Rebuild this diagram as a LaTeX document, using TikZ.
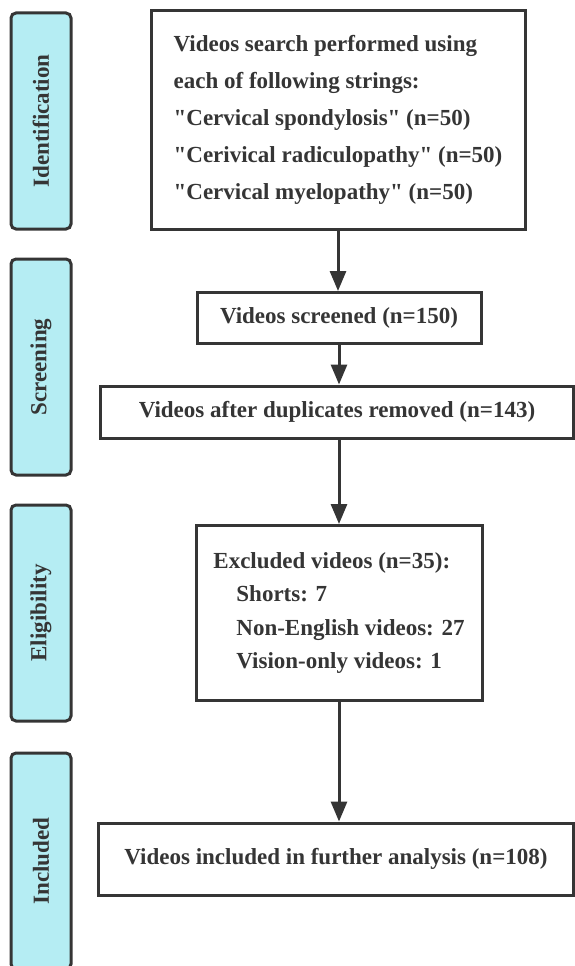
\documentclass[tikz,border=0pt]{standalone}
\usepackage{fontspec}
\setmainfont{Liberation Serif}
\usetikzlibrary{arrows.meta}
\definecolor{stagefill}{HTML}{B5EDF3}
\definecolor{inkgray}{HTML}{353535}

\begin{document}
\begin{tikzpicture}[x=1pt,y=-1pt,>={Triangle[length=20pt,width=16pt]}]
  \tikzstyle{stage}=[rectangle,rounded corners=5pt,draw=inkgray,line width=3pt,fill=stagefill,
    minimum width=60pt,minimum height=216pt,inner sep=0pt,text=inkgray,
    font=\fontsize{23}{28}\selectfont\bfseries]
  \tikzstyle{box}=[rectangle,draw=inkgray,line width=3pt,fill=white,text=inkgray,inner sep=0pt,
    align=left,font=\fontsize{23}{37}\selectfont\bfseries]
  \useasboundingbox (0,0) rectangle (574,966);

% stage labels on the left
\node [stage] (ident) at (41,121) {\rotatebox{90}{Identification}};
\node [stage] (screen) at (41,367) {\rotatebox{90}{Screening}};
\node [stage] (elig) at (41,613) {\rotatebox{90}{Eligibility}};
\node [stage] (incl) at (41,861) {\rotatebox{90}{Included}};

% flow boxes
\node [box,minimum width=374pt,minimum height=218pt] (search) at (338,120)
  {Videos search performed using\\each of following strings:\\\textquotedbl Cervical spondylosis\textquotedbl{} (n=50)\\\textquotedbl Cerivical radiculopathy\textquotedbl{} (n=50)\\\textquotedbl Cervical myelopathy\textquotedbl{} (n=50)};
\node [box,minimum width=284pt,minimum height=51pt] (screened) at (339,318) {Videos screened (n=150)};
\node [box,minimum width=473pt,minimum height=52pt] (dedup) at (337,412) {Videos after duplicates removed (n=143)};
\node [box,minimum width=286pt,minimum height=175pt,font=\fontsize{23}{33.5}\selectfont\bfseries] (excluded) at (339,613)
  {Excluded videos (n=35):\\\hspace*{23pt}Shorts: 7\\\hspace*{23pt}Non-English videos: 27\\\hspace*{23pt}Vision-only videos: 1};
\node [box,minimum width=475pt,minimum height=72pt] (included) at (336,859) {Videos included in further analysis (n=108)};

\draw [->,draw=inkgray,fill=inkgray,line width=3pt] (search.south) -- (search.south |- screened.north);
\draw [->,draw=inkgray,fill=inkgray,line width=3pt] (screened.south) -- (screened.south |- dedup.north);
\draw [->,draw=inkgray,fill=inkgray,line width=3pt] (excluded.north |- dedup.south) -- (excluded.north);
\draw [->,draw=inkgray,fill=inkgray,line width=3pt] (excluded.south) -- (excluded.south |- included.north);
\end{tikzpicture}
\end{document}
